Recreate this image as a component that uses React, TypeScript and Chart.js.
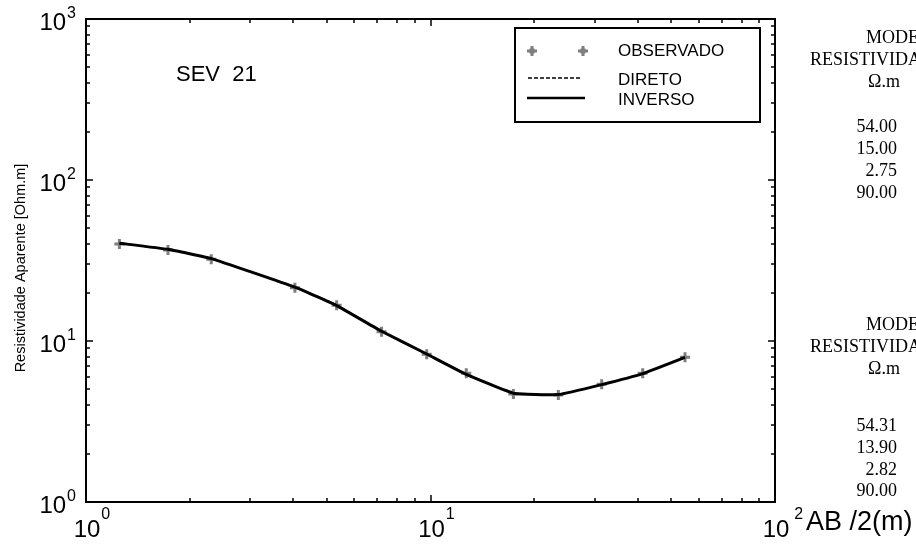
import React, { useEffect, useRef } from "react";
import { Chart, registerables } from "chart.js";

Chart.register(...registerables);

// AB/2 (m) spacings
const abHalf = [1.25, 1.73, 2.31, 4.04, 5.34, 7.21, 9.75, 12.7, 17.4, 23.5, 31.4, 41.3, 54.8];
// apparent resistivity (Ohm.m)
const observado = [40, 36.7, 32.2, 21.4, 16.7, 11.4, 8.27, 6.3, 4.69, 4.62, 5.38, 6.3, 7.92];
const direto = [40.3, 37.0, 32.6, 21.7, 16.8, 11.5, 8.3, 6.25, 4.75, 4.66, 5.35, 6.27, 7.9];
const inverso = [40.5, 37.1, 32.5, 21.6, 16.6, 11.5, 8.3, 6.2, 4.74, 4.65, 5.36, 6.27, 7.92];

const xDecades = [1, 10, 100];
const xDecadeExp = ["0", "1", "2"];
const yDecades = [1, 10, 100, 1000];
const yDecadeExp = ["0", "1", "2", "3"];

const legendLabels = ["OBSERVADO", "DIRETO", "INVERSO"];
const modelHeader = ["MODELO", "RESISTIVIDADE", "Ω.m"];
const modelDireto = ["54.00", "15.00", "2.75", "90.00"];
const modelInverso = ["54.31", "13.90", "2.82", "90.00"];
const chartTitle = "SEV  21";
const yTitle = "Resistividade Aparente [Ohm.m]";
const xTitle = "AB /2(m)";

const SANS = "Arial, 'Liberation Sans', sans-serif";
const SERIF = "'Times New Roman', 'Liberation Serif', serif";
const MARK = "#7f7f7f";

function drawMark(ctx: CanvasRenderingContext2D, x: number, y: number, r: number) {
  ctx.save();
  ctx.strokeStyle = MARK;
  ctx.fillStyle = MARK;
  ctx.lineWidth = 3;
  ctx.beginPath();
  ctx.moveTo(x - r, y); ctx.lineTo(x + r, y);
  ctx.moveTo(x, y - r); ctx.lineTo(x, y + r);
  ctx.stroke();
  ctx.fillRect(x - 2.5, y - 2.5, 5, 5);
  ctx.restore();
}

const framePlugin = {
  id: "frame",
  afterDraw(chart: any) {
    const ctx: CanvasRenderingContext2D = chart.ctx;
    const xs = chart.scales.x;
    const ys = chart.scales.y;
    const { left, right, top, bottom } = chart.chartArea;
    ctx.save();
    ctx.strokeStyle = "#000";
    ctx.fillStyle = "#000";
    ctx.lineWidth = 2;
    ctx.strokeRect(left, top, right - left, bottom - top);

    const seg = (a: number, b: number, c: number, d: number) => {
      ctx.beginPath();
      ctx.moveTo(a, b);
      ctx.lineTo(c, d);
      ctx.stroke();
    };
    ctx.lineWidth = 1.5;
    xDecades.forEach((dv) => {
      for (let m = 1; m <= 9; m++) {
        const v = dv * m;
        if (v > xs.max || v <= xs.min) continue;
        const px = Math.round(xs.getPixelForValue(v));
        const len = m === 1 ? 7 : 4;
        seg(px, bottom, px, bottom - len);
        seg(px, top, px, top + len);
      }
    });
    yDecades.forEach((dv) => {
      for (let m = 1; m <= 9; m++) {
        const v = dv * m;
        if (v >= ys.max || v <= ys.min) continue;
        const py = Math.round(ys.getPixelForValue(v));
        const len = m === 1 ? 7 : 4;
        seg(left, py, left + len, py);
        seg(right, py, right - len, py);
      }
    });

    // y tick labels
    yDecades.forEach((v, i) => {
      const py = ys.getPixelForValue(v);
      ctx.font = `16px ${SANS}`;
      const we = ctx.measureText(yDecadeExp[i]).width;
      const ex = 76 - we;
      ctx.textAlign = "left";
      ctx.textBaseline = "middle";
      ctx.fillText(yDecadeExp[i], ex, py - 5);
      ctx.font = `24px ${SANS}`;
      const wb = ctx.measureText("10").width;
      ctx.fillText("10", ex - wb - 1, py + 4);
    });

    // x tick labels
    xDecades.forEach((v, i) => {
      const px = xs.getPixelForValue(v);
      ctx.font = `24px ${SANS}`;
      ctx.textAlign = "center";
      ctx.textBaseline = "middle";
      const wb = ctx.measureText("10").width;
      ctx.fillText("10", px + 1, 530);
      ctx.font = `16px ${SANS}`;
      ctx.textAlign = "left";
      ctx.fillText(xDecadeExp[i], px + 1 + wb / 2 + (i === 2 ? 5 : 1), 515);
    });

    // x title
    ctx.font = `27px ${SANS}`;
    ctx.textAlign = "left";
    ctx.textBaseline = "middle";
    ctx.fillText(xTitle, 806, 523);

    // y title
    ctx.save();
    ctx.translate(21, 268);
    ctx.rotate(-Math.PI / 2);
    ctx.font = `14.5px ${SANS}`;
    ctx.textAlign = "center";
    ctx.textBaseline = "middle";
    ctx.fillText(yTitle, 0, 0);
    ctx.restore();

    // chart title
    ctx.font = `22px ${SANS}`;
    ctx.textAlign = "left";
    ctx.textBaseline = "middle";
    ctx.fillText(chartTitle, 176, 75);

    // legend
    ctx.lineWidth = 2;
    ctx.strokeRect(515, 28, 245, 94);
    drawMark(ctx, 532, 51, 5);
    drawMark(ctx, 583, 51, 5);
    ctx.lineWidth = 1.5;
    ctx.setLineDash([4, 2]);
    seg(528, 78, 582, 78);
    ctx.setLineDash([]);
    ctx.lineWidth = 2.5;
    seg(527, 98, 585, 98);
    ctx.font = `17px ${SANS}`;
    ctx.textBaseline = "middle";
    ctx.textAlign = "left";
    ctx.fillText(legendLabels[0], 618, 51);
    ctx.fillText(legendLabels[1], 618, 80);
    ctx.fillText(legendLabels[2], 618, 100);

    // model panels
    const panel = (y0: number, vals: string[], vy: number[]) => {
      ctx.font = `18px ${SERIF}`;
      ctx.textBaseline = "middle";
      ctx.textAlign = "left";
      ctx.fillText(modelHeader[0], 866, y0);
      ctx.fillText(modelHeader[1], 810, y0 + 22);
      ctx.textAlign = "center";
      ctx.fillText(modelHeader[2], 884, y0 + 44);
      ctx.textAlign = "right";
      vals.forEach((s, k) => ctx.fillText(s, 897, vy[k]));
    };
    panel(38, modelDireto, [127, 149, 171, 193]);
    panel(325, modelInverso, [426, 448, 470, 491]);

    ctx.restore();
  },
};

export default function App() {
  const ref = useRef<HTMLCanvasElement | null>(null);
  useEffect(() => {
    if (!ref.current) return;
    const mk = (ys: number[]) => abHalf.map((x, i) => ({ x, y: ys[i] }));
    const chart = new Chart(ref.current, {
      type: "line",
      data: {
        datasets: [
          {
            label: legendLabels[2],
            data: mk(inverso),
            borderColor: "#000",
            borderWidth: 3,
            pointRadius: 0,
            tension: 0.1,
            fill: false,
          },
          {
            label: legendLabels[1],
            data: mk(direto),
            borderColor: "#000",
            borderWidth: 1.2,
            borderDash: [4, 2],
            pointRadius: 0,
            tension: 0.1,
            fill: false,
          },
          {
            label: legendLabels[0],
            data: mk(observado),
            showLine: false,
            pointStyle: "cross",
            pointRadius: 5,
            borderWidth: 3,
            borderColor: MARK,
            backgroundColor: MARK,
          },
        ],
      },
      options: {
        responsive: false,
        animation: false,
        devicePixelRatio: 1,
        layout: { padding: { left: 86, top: 19, right: 141, bottom: 45 } },
        plugins: { legend: { display: false }, tooltip: { enabled: false } },
        scales: {
          x: { type: "logarithmic", min: 1, max: 100, display: false },
          y: { type: "logarithmic", min: 1, max: 1000, display: false },
        },
      },
      plugins: [framePlugin],
    });
    return () => chart.destroy();
  }, []);
  return (
    <div style={{ position: "absolute", left: 0, top: 0, width: 916, height: 547, background: "#fff" }}>
      <canvas ref={ref} width={916} height={547} style={{ display: "block" }} />
    </div>
  );
}
